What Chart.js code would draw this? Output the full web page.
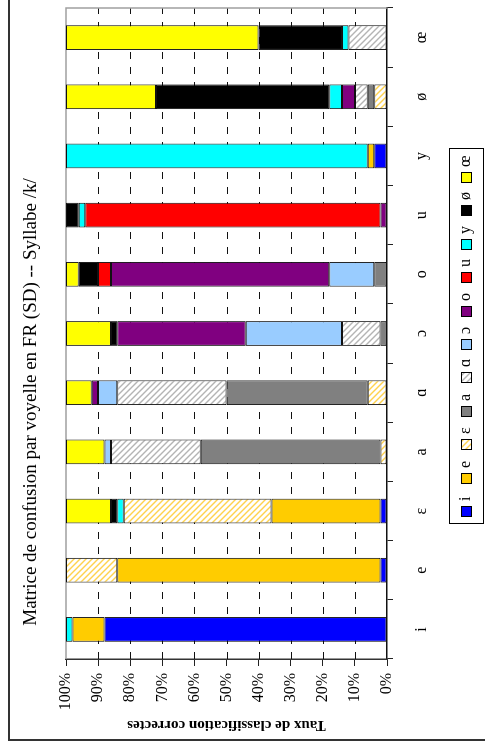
<!DOCTYPE html>
<html>
<head>
<meta charset="utf-8">
<script src="https://cdn.jsdelivr.net/npm/chart.js@4.4.1/dist/chart.umd.min.js"></script>
<style>
  html, body { margin: 0; padding: 0; background: #fff; overflow: hidden; }
  #wrap { position: absolute; left: 0; top: 0; width: 747px; height: 485px; transform-origin: 0 0; transform: translateY(747px) rotate(-90deg); overflow: hidden; background: #fff; }
  #frame { position: absolute; left: 6px; top: 8px; width: 800px; height: 600px; border: 2px solid #333; }
  canvas { position: absolute; left: 0; top: 0; }
</style>
</head>
<body>
<div id="wrap"><div id="frame"></div><canvas id="confChart" width="747" height="485"></canvas></div>
<script>
  // stimulus vowels (one bar each)
  const vowels = ['i', 'e', 'ε', 'a', 'ɑ', 'ɔ', 'o', 'u', 'y', 'ø', 'œ'];
  const chartTitle = 'Matrice de confusion par voyelle en FR (SD) -- Syllabe /k/';
  const yTitle = 'Taux de classification correctes';
  const yTicks = [0, 10, 20, 30, 40, 50, 60, 70, 80, 90, 100];

  // % of responses given as each vowel, per stimulus
  const resp_i  = [88, 2, 2, 0, 0, 0, 0, 0, 4, 0, 0];
  const resp_e  = [10, 82, 34, 0, 0, 0, 0, 0, 2, 0, 0];
  const resp_E  = [0, 16, 46, 2, 6, 0, 0, 0, 0, 4, 0];
  const resp_a  = [0, 0, 0, 56, 44, 2, 4, 0, 0, 2, 0];
  const resp_A  = [0, 0, 0, 28, 34, 12, 0, 0, 0, 4, 12];
  const resp_O  = [0, 0, 0, 2, 6, 30, 14, 0, 0, 0, 0];
  const resp_o  = [0, 0, 0, 0, 2, 40, 68, 2, 0, 4, 0];
  const resp_u  = [0, 0, 0, 0, 0, 0, 4, 92, 0, 0, 0];
  const resp_y  = [2, 0, 2, 0, 0, 0, 0, 2, 94, 4, 2];
  const resp_eu = [0, 0, 2, 0, 0, 2, 6, 4, 0, 54, 26];
  const resp_oe = [0, 0, 14, 12, 8, 14, 4, 0, 0, 28, 60];

  Chart.defaults.font.family = "'Liberation Serif', 'DejaVu Serif', serif";
  Chart.defaults.color = '#000';

  function hatch(color) {
    const c = document.createElement('canvas');
    c.width = c.height = 6;
    const g = c.getContext('2d');
    g.fillStyle = '#fff'; g.fillRect(0, 0, 6, 6);
    g.strokeStyle = color; g.lineWidth = 1.4;
    g.beginPath();
    g.moveTo(0, 0); g.lineTo(6, 6);
    g.moveTo(-3, 3); g.lineTo(3, 9);
    g.moveTo(3, -3); g.lineTo(9, 3);
    g.stroke();
    return g.createPattern(c, 'repeat');
  }

  const series = [
    ['i', resp_i, '#0000ff'],
    ['e', resp_e, '#ffcc00'],
    ['ε', resp_E, hatch('#ffd24d')],
    ['a', resp_a, '#808080'],
    ['ɑ', resp_A, hatch('#b4b4b4')],
    ['ɔ', resp_O, '#99ccff'],
    ['o', resp_o, '#800080'],
    ['u', resp_u, '#ff0000'],
    ['y', resp_y, '#00ffff'],
    ['ø', resp_eu, '#000000'],
    ['œ', resp_oe, '#ffff00']
  ];

  // dashed value gridlines + grey plot frame, drawn under the bars
  const plotFrame = {
    id: 'plotFrame',
    beforeDatasetsDraw(chart) {
      const { ctx, chartArea: a, scales: { y } } = chart;
      ctx.save();
      ctx.strokeStyle = '#111'; ctx.lineWidth = 1;
      ctx.setLineDash([7, 8]);
      y.ticks.forEach(t => {
        if (t.value === 0 || t.value === 100) return;
        const py = Math.round(y.getPixelForValue(t.value)) + 0.5;
        ctx.beginPath(); ctx.moveTo(a.left, py); ctx.lineTo(a.right, py); ctx.stroke();
      });
      ctx.setLineDash([]);
      ctx.strokeStyle = '#a0a0a0'; ctx.lineWidth = 1.5;
      ctx.beginPath();
      ctx.moveTo(a.left, a.top); ctx.lineTo(a.right, a.top); ctx.lineTo(a.right, a.bottom);
      ctx.stroke();
      ctx.restore();
    }
  };

  const sideTitle = {
    id: 'sideTitle',
    afterDraw(chart) {
      const ctx = chart.ctx;
      ctx.save();
      ctx.font = "19px 'Liberation Serif'";
      ctx.fillStyle = '#000'; ctx.textAlign = 'center'; ctx.textBaseline = 'middle';
      ctx.fillText(chartTitle, 345, 31);
      ctx.restore();
    }
  };

  const boxLegend = {
    id: 'boxLegend',
    afterDraw(chart) {
      const ctx = chart.ctx;
      const x0 = 223, y0 = 449, w = 375, h = 34, step = 33.4;
      ctx.save();
      ctx.strokeStyle = '#000'; ctx.lineWidth = 1;
      ctx.strokeRect(x0 + 0.5, y0 + 0.5, w, h);
      ctx.font = "16px 'Liberation Serif'";
      ctx.textBaseline = 'middle'; ctx.textAlign = 'left';
      chart.data.datasets.forEach((ds, k) => {
        const x = Math.round(x0 + 7 + k * step);
        ctx.fillStyle = ds.backgroundColor;
        ctx.fillRect(x, 461, 11, 11);
        ctx.strokeRect(x + 0.5, 461.5, 10, 10);
        ctx.fillStyle = '#000';
        ctx.fillText(ds.label, x + 16, 466);
      });
      ctx.restore();
    }
  };

  new Chart(document.getElementById('confChart'), {
    type: 'bar',
    data: {
      labels: vowels,
      datasets: series.map(([label, vals, color]) => ({
        label, data: vals.map(v => v || null), backgroundColor: color,
        borderColor: '#111', borderWidth: 1, borderSkipped: false,
        barPercentage: 0.418, categoryPercentage: 1
      }))
    },
    options: {
      responsive: false, animation: false, devicePixelRatio: 1,
      layout: { padding: { left: 0, right: 8, top: 66, bottom: 0 } },
      plugins: { legend: { display: false }, title: { display: false }, tooltip: { enabled: false } },
      scales: {
        x: {
          stacked: true, offset: true,
          grid: { offset: true, drawOnChartArea: false, drawTicks: true, tickLength: 6, tickColor: '#222' },
          border: { display: true, color: '#111', width: 1.5 },
          ticks: { font: { size: 16 }, color: '#000', padding: 19, maxRotation: 0, autoSkip: false },
          afterFit: s => { s.height = 98; }
        },
        y: {
          stacked: true, min: 0, max: 100,
          afterBuildTicks: s => { s.ticks = yTicks.map(v => ({ value: v })); },
          ticks: { callback: v => v + '%', font: { size: 16 }, color: '#000', padding: 7 },
          grid: { drawOnChartArea: false, drawTicks: true, tickLength: 7, tickColor: '#222' },
          border: { display: true, color: '#333', width: 1.5 },
          title: { display: true, text: yTitle, font: { size: 15, weight: 'bold' }, color: '#000', padding: { top: 13, bottom: 0 } },
          afterFit: s => { s.width = 88; }
        }
      }
    },
    plugins: [plotFrame, sideTitle, boxLegend]
  });
</script>
</body>
</html>
